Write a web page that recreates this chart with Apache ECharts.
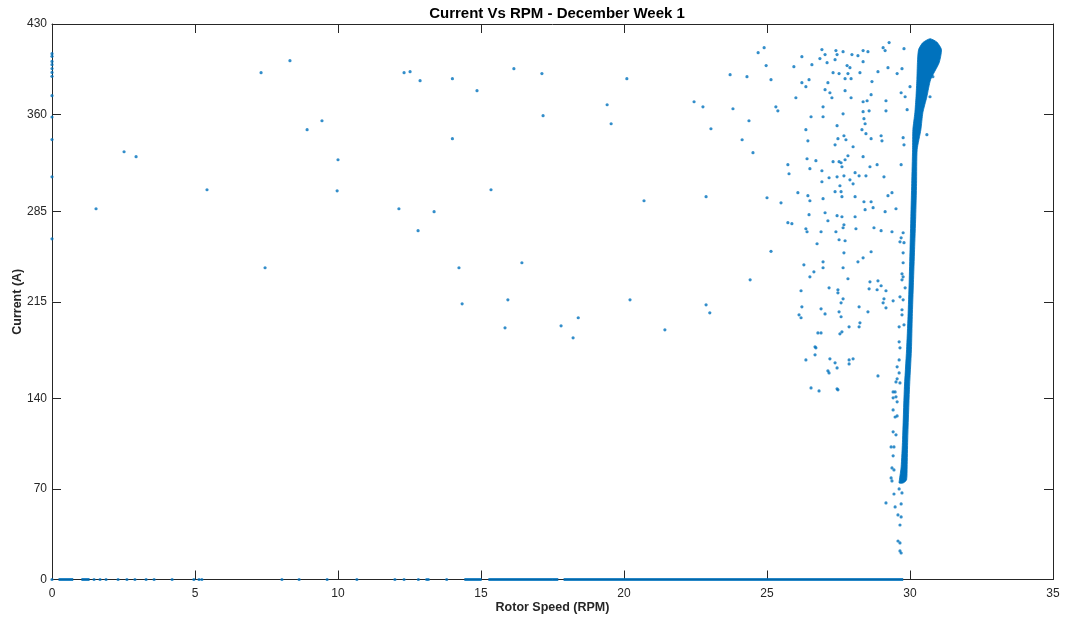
<!DOCTYPE html>
<html>
<head>
<meta charset="utf-8">
<title>Current Vs RPM - December Week 1</title>
<script src="https://cdn.jsdelivr.net/npm/echarts@6/dist/echarts.min.js"></script>
<style>
  html, body { margin: 0; padding: 0; background: #ffffff; }
  #chart { width: 1070px; height: 619px; }
</style>
</head>
<body>
<div id="chart"></div>
<script>
// Axis ticks
const xTickStep = 5;
const yTickValues = [0, 70, 140, 215, 285, 360, 430];

// Scattered samples away from the main operating curve: [rpm, current]
const scatterPts = [
  [2.52,331.1],[2.94,327.3],[1.54,287.0],[5.42,301.7],[7.45,241.3],[7.31,392.3],[8.32,401.6],
  [8.92,348.2],[9.44,355.1],[10.0,324.9],[9.97,300.9],[12.13,287.0],[12.31,392.3],[12.52,393.1],
  [12.87,386.1],[12.8,270.0],[13.36,284.7],[14.0,387.7],[14.0,341.2],[14.23,241.3],[14.34,213.4],
  [14.86,378.4],[15.35,301.7],[16.43,245.2],[15.94,216.5],[15.84,194.8],[16.15,395.4],[17.13,391.6],
  [17.17,359.0],[17.8,196.4],[18.4,202.6],[18.22,187.1],[19.41,367.5],[19.55,352.8],[20.1,387.7],
  [20.21,216.5],[20.7,293.2],[21.43,193.3],[22.45,369.8],[22.76,365.9],[22.87,296.3],[22.87,212.6],
  [23.0,206.4],[23.04,348.9],[23.71,390.8],[23.81,364.4],[24.13,340.4],[24.37,355.1],[24.51,330.4],
  [24.41,232.0],[24.69,407.8],[24.9,411.7],[25.0,295.5],[25.14,254.0],[25.14,386.9],
  [24.30,389.2],[24.97,397.8],[25.31,365.9],[25.38,362.8],[25.94,397.0],[26.22,404.7],[26.01,372.9],
  [26.22,384.6],[26.36,381.5],[26.47,386.9],[26.36,348.2],[26.54,358.2],[26.57,398.5],[26.92,410.2],
  [27.03,406.3],[26.85,403.2],[27.10,400.1],[27.38,402.4],[27.41,409.4],[27.45,406.3],[27.66,408.6],
  [27.80,397.8],[27.97,406.3],[28.18,405.5],[28.36,409.4],[28.53,408.6],[28.36,400.8],[29.06,411.7],
  [29.13,409.4],[29.27,415.6],[29.79,410.9],[27.31,392.3],[27.52,391.6],[27.73,387.7],[27.83,391.6],
  [27.94,387.7],[27.90,396.2],[28.25,392.3],[28.67,385.4],[28.88,393.1],[29.23,396.2],[29.55,391.6],
  [29.72,395.4],[27.03,379.2],[27.13,384.6],[27.20,376.8],[27.27,372.9],[27.73,378.4],[27.94,372.9],
  [28.36,369.8],[28.50,370.6],[28.64,375.3],[29.16,370.6],[29.69,376.8],[26.96,365.9],[26.96,358.2],
  [27.66,360.5],[28.36,362.1],[28.57,362.8],[29.16,362.8],[28.39,356.7],[28.43,352.8],[27.45,351.3],
  [28.32,348.2],[28.46,345.1],[27.48,341.2],[27.69,343.5],[27.76,340.4],[28.64,341.2],[28.99,343.5],
  [29.02,339.6],[26.43,339.6],[27.38,336.5],[28.01,335.0],[29.76,342.0],[29.79,336.5],[26.40,325.7],
  [26.71,324.2],[27.31,323.4],[27.52,323.4],[27.73,324.9],[27.83,328.0],[28.36,327.3],[25.73,321.1],
  [25.77,314.1],[26.50,318.0],[26.92,316.4],[27.59,322.6],[27.62,319.5],[28.08,314.9],[28.22,312.5],
  [28.46,312.5],[28.60,319.5],[28.85,321.1],[29.09,311.7],[29.69,321.1],[27.17,311.0],[27.45,311.7],
  [27.69,312.5],[27.90,309.4],[28.01,306.3],[26.92,307.9],[27.55,304.8],[26.08,299.4],[25.49,291.6],
  [26.43,297.1],[26.50,293.2],[26.96,294.8],[27.38,300.2],[27.59,300.2],[27.62,296.3],[28.08,296.3],
  [28.39,292.4],[28.64,292.4],[29.23,297.1],[29.37,299.4],
  [26.47,282.4],[27.03,283.9],[27.13,277.7],[27.45,281.6],[27.62,280.8],[28.08,280.8],[28.43,286.3],
  [28.71,287.8],[29.13,284.7],[29.51,287.0],[25.73,276.2],[25.87,275.4],[26.36,271.5],[26.40,269.2],
  [26.89,269.2],[27.41,269.2],[27.66,272.3],[27.69,274.6],[28.11,271.5],[28.74,272.3],[28.99,270.0],
  [29.37,269.2],[27.52,263.0],[27.73,262.2],[26.75,259.9],[27.69,252.9],[28.18,245.9],[28.36,249.0],
  [28.64,253.7],[26.29,243.6],[26.96,245.9],[26.96,241.3],[27.66,241.3],[26.64,238.2],[26.50,234.3],
  [27.83,232.8],[28.60,230.4],[28.88,231.2],[28.99,227.4],[29.16,223.5],[28.57,225.0],[28.85,224.3],
  [27.17,225.8],[26.19,223.5],[27.48,224.3],[27.48,221.9],[27.66,217.3],[29.09,217.3],[29.41,215.7],
  [29.06,214.2],[26.22,211.1],[26.89,209.5],[27.59,214.2],[28.22,211.1],[29.16,210.3],[27.03,205.6],
  [27.52,207.2],[28.53,207.2],[26.12,204.9],[26.19,202.6],[27.59,203.4],[27.87,195.6],[28.25,198.7],
  [28.22,195.6],[26.78,190.9],[26.89,190.9],[27.62,191.7],[27.55,190.2],[26.68,180.1],[26.71,179.3],
  [26.68,173.9],[26.36,170.0],[27.20,170.8],[27.38,167.7],[27.45,163.8],[27.87,170.0],[28.01,170.8],
  [27.87,166.9],[27.13,161.5],[27.17,159.9],[28.88,157.6],[26.54,148.3],[26.82,146.0],[27.45,147.6],
  [27.48,146.8],
  [29.76,268.4],[29.69,264.5],[29.65,261.4],[29.79,260.7],[29.76,252.9],[29.76,245.2],[29.72,236.6],
  [29.76,234.3],[29.72,232.0],[29.83,225.8],[29.65,218.8],[29.76,216.5],[29.72,208.8],[29.72,204.9],
  [29.62,195.6],[29.79,197.1],[29.62,184.0],[29.65,179.3],[29.62,170.0],[29.55,164.6],[29.62,159.9],
  [29.51,152.9],[29.65,152.2],[29.41,145.2],[29.51,141.4],[29.55,155.3],[29.48,145.2],[29.41,140.6],
  [29.55,137.5],[29.41,131.3],[29.55,126.6],[29.48,125.8],[29.41,114.3],[29.51,112.0],[29.34,102.6],
  [29.44,102.6],[29.41,95.7],[29.37,86.4],[29.44,84.8],[29.34,78.6],[29.37,76.3],[29.44,66.2],
  [29.16,59.3],[29.48,56.2],[29.69,58.5],[29.58,50.0],[29.69,48.4],[29.65,42.2],[29.58,29.8],
  [29.65,28.3],[29.65,22.1],[29.69,20.5],[29.72,67.0],[29.62,70.1],
  [30.59,344.3],[30.70,373.7],[30.80,389.2],[29.83,373.7],[29.90,363.7],[30.0,381.5]
];

// Samples logged at zero speed
const axisPts = [
  [0,407.0],[0,405.0],[0,401.0],[0,398.5],[0,395.5],[0,392.5],[0,389.5],[0,374.5],
  [0,358.0],[0,340.5],[0,311.7],[0,263.7]
];

// Isolated samples logged at zero current
const zeroPts = [
  [0,0],[1.47,0],[1.68,0],[1.89,0],[2.31,0],[2.62,0],[2.9,0],[3.29,0],[3.57,0],[4.2,0],
  [4.96,0],[5.14,0],[5.24,0],[8.04,0],[8.64,0],[9.62,0],[10.66,0],[11.99,0],[12.31,0],
  [12.81,0],[13.1,0],[13.16,0],[13.8,0]
];

// Stretches of rpm where zero-current samples overlap into a solid run: [from, to]
const zeroRuns = [
  [0.28,0.69],[1.08,1.26],[14.47,14.97],[15.31,17.65],[17.94,29.71]
];

// Outline of the dense operating curve (left edge bottom-up, right edge top-down)
const bandLeft = [
  [29.62,74.7],[29.63,77.1],[29.69,87.1],[29.74,108.1],[29.80,146.8],[29.88,177.8],[29.93,203.4],
  [29.97,229.7],[30.00,255.2],[30.03,280.8],[30.06,306.6],[30.09,332.7],[30.10,348.2],[30.17,361.4],
  [30.21,373.7],[30.24,386.9],[30.26,400.1],[30.30,410.2],[30.45,415.6],[30.70,418.6]
];
const bandRight = [
  [30.94,416.0],[31.10,410.2],[31.02,400.1],[30.72,386.9],[30.59,373.7],[30.45,361.4],[30.38,348.2],
  [30.25,332.7],[30.23,306.6],[30.20,280.8],[30.16,255.2],[30.12,229.7],[30.08,203.4],[30.05,177.8],
  [29.98,146.8],[29.92,108.1],[29.90,87.1],[29.88,77.1],[29.76,74.7]
];

const dotColor = '#0072BD';
const axisColor = '#262626';
const labelColor = '#262626';
const fontFamily = '"Liberation Sans", Arial, Helvetica, sans-serif';

const chart = echarts.init(document.getElementById('chart'), null, { renderer: 'canvas' });

const tickStyle = { inside: true, length: 9, lineStyle: { color: axisColor, width: 1 } };
const lineStyle = { show: true, onZero: false, lineStyle: { color: axisColor, width: 1 } };

chart.setOption({
  animation: false,
  backgroundColor: '#ffffff',
  title: {
    text: 'Current Vs RPM - December Week 1',
    left: 552,
    textAlign: 'center',
    top: 1,
    textStyle: { fontFamily, fontSize: 15, fontWeight: 'bold', color: '#000000' }
  },
  grid: {
    left: 52, right: 17, top: 24, bottom: 39.5,
    containLabel: false, outerBoundsMode: 'none'
  },
  xAxis: [
    {
      type: 'value', min: 0, max: 35, interval: xTickStep,
      name: 'Rotor Speed (RPM)', nameLocation: 'middle', nameGap: 22, nameMoveOverlap: false,
      nameTextStyle: { fontFamily, fontSize: 12.5, fontWeight: 'bold', color: labelColor },
      axisLine: lineStyle, axisTick: tickStyle,
      axisLabel: { margin: 8, fontFamily, fontSize: 12, color: labelColor },
      splitLine: { show: false }
    },
    {
      type: 'value', min: 0, max: 35, interval: xTickStep, position: 'top',
      axisLine: lineStyle, axisTick: tickStyle,
      axisLabel: { show: false }, splitLine: { show: false }
    }
  ],
  yAxis: [
    {
      type: 'value', min: 0, max: 430,
      name: 'Current (A)', nameLocation: 'middle', nameGap: 28, nameMoveOverlap: false,
      nameTextStyle: { fontFamily, fontSize: 12.5, fontWeight: 'bold', color: labelColor },
      axisLine: lineStyle,
      axisTick: Object.assign({ customValues: yTickValues }, tickStyle),
      axisLabel: { customValues: yTickValues, margin: 5, fontFamily, fontSize: 12, color: labelColor },
      splitLine: { show: false }
    },
    {
      type: 'value', min: 0, max: 430, position: 'right',
      axisLine: lineStyle,
      axisTick: Object.assign({ customValues: yTickValues }, tickStyle),
      axisLabel: { show: false }, splitLine: { show: false }
    }
  ],
  series: [
    {
      // dense operating curve drawn as a filled outline
      type: 'custom',
      xAxisIndex: 0, yAxisIndex: 0,
      clip: false,
      data: [[0, 0]],
      renderItem: function (params, api) {
        const pts = bandLeft.concat(bandRight).map(function (p) { return api.coord(p); });
        return {
          type: 'polygon',
          shape: { points: pts, smooth: 0.2 },
          style: { fill: dotColor, stroke: dotColor, lineWidth: 0.8 }
        };
      },
      silent: true
    },
    {
      type: 'custom',
      xAxisIndex: 0, yAxisIndex: 0,
      clip: false,
      data: zeroRuns,
      renderItem: function (params, api) {
        const a = api.coord([api.value(0), 0]);
        const b = api.coord([api.value(1), 0]);
        return {
          type: 'rect',
          shape: { x: a[0] - 1.5, y: a[1] - 1.5, width: b[0] - a[0] + 3, height: 3 },
          style: { fill: dotColor, opacity: 0.85 }
        };
      },
      silent: true
    },
    {
      type: 'scatter', xAxisIndex: 0, yAxisIndex: 0, clip: false,
      symbol: 'circle', symbolSize: 3.2,
      itemStyle: { color: dotColor },
      data: scatterPts.concat(axisPts, zeroPts),
      silent: true
    }
  ]
});
</script>
</body>
</html>
